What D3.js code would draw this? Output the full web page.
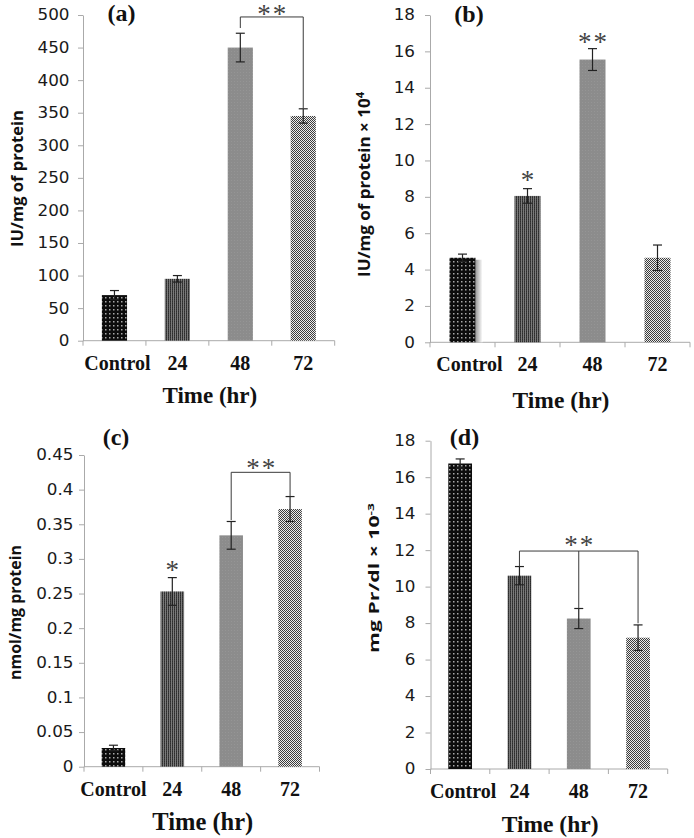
<!DOCTYPE html>
<html><head><meta charset="utf-8">
<script src="https://cdn.jsdelivr.net/npm/d3@7"></script>
<style>body{margin:0;background:#fff}svg{display:block}</style>
</head><body>
<svg id="chart" width="694" height="838"></svg>
<script>
// ---------- data ----------
const categories = ["Control", "24", "48", "72"];

const valuesA = [70, 95, 450, 345];
const errorsA = [7, 5, 22, 11];
const ticksA  = [0, 50, 100, 150, 200, 250, 300, 350, 400, 450, 500];

const valuesB = [4.65, 8.05, 15.55, 4.65];
const errorsB = [0.2, 0.4, 0.6, 0.7];
const ticksB  = [0, 2, 4, 6, 8, 10, 12, 14, 16, 18];

const valuesC = [0.027, 0.253, 0.334, 0.372];
const errorsC = [0.004, 0.02, 0.02, 0.018];
const ticksC  = [0, 0.05, 0.1, 0.15, 0.2, 0.25, 0.3, 0.35, 0.4, 0.45];

const valuesD = [16.75, 10.6, 8.25, 7.2];
const errorsD = [0.25, 0.5, 0.55, 0.7];
const ticksD  = [0, 2, 4, 6, 8, 10, 12, 14, 16, 18];

const panelLabels = ["(a)", "(b)", "(c)", "(d)"];
const xTitle = "Time (hr)";
const yTitles = [
  [{t: "IU/mg of protein"}],
  [{t: "IU/mg of protein × 10"}, {t: "4", sup: true}],
  [{t: "nmol/mg protein"}],
  [{t: "mg Pr/dl × 10"}, {t: "-3", sup: true}]
];
// significance marks: star text over categories (value = y position in data units)
const starsA = [{text: "**", cats: ["48", "72"], value: 507}];
const starsB = [{text: "*", cats: ["24"], value: 9.1}, {text: "**", cats: ["48"], value: 16.7}];
const starsC = [{text: "*", cats: ["24"], value: 0.289}, {text: "**", cats: ["48", "72"], value: 0.436}];
const starsD = [{text: "**", cats: ["48"], value: 12.45}];
// brackets: categories joined, top level and end level of each leg (data units)
const bracketsA = [{cats: ["48", "72"], top: 497, ends: [480, 357]}];
const bracketsB = [];
const bracketsC = [{cats: ["48", "72"], top: 0.425, ends: [0.356, 0.39]}];
const bracketsD = [{cats: ["24", "48", "72"], top: 11.95, ends: [11.1, 8.79, 7.99]}];

// ---------- layout ----------
const panels = [
  {values: valuesA, errors: errorsA, ticks: ticksA, stars: starsA, brackets: bracketsA,
   x0: 83, x1: 334.7, yTop: 15, y0: 340.7, labelGap: 13.5, ctrlShift: 3,
   plabel: {x: 121.5, y: 20.5}, ytitle: {x: 17.5, y: 178.5, len: 137, fs: 16.5},
   xtitleOff: 62.5, xtitleFs: 23},
  {values: valuesB, errors: errorsB, ticks: ticksB, stars: starsB, brackets: bracketsB,
   x0: 430, x1: 690, yTop: 15, y0: 342.3, labelGap: 15, ctrlShift: 7, shadow: true,
   plabel: {x: 469, y: 21.5}, ytitle: {x: 364, y: 184.5, len: 185, fs: 16.5},
   xtitleOff: 66, xtitleFs: 23.5},
  {values: valuesC, errors: errorsC, ticks: ticksC, stars: starsC, brackets: bracketsC,
   x0: 84, x1: 319.5, yTop: 455, y0: 766.7, labelGap: 10.5, ctrlShift: 0,
   plabel: {x: 116, y: 445}, ytitle: {x: 15, y: 612.5, len: 135, fs: 16},
   xtitleOff: 63, xtitleFs: 24.5},
  {values: valuesD, errors: errorsD, ticks: ticksD, stars: starsD, brackets: bracketsD,
   x0: 430.5, x1: 667.7, yTop: 440.7, y0: 769, labelGap: 15, ctrlShift: 3,
   plabel: {x: 464.5, y: 445}, ytitle: {x: 374.5, y: 578, len: 150, fs: 14},
   xtitleOff: 62.5, xtitleFs: 23.5}
];

const svg = d3.select("#chart");
const defs = svg.append("defs");

// patterns
function pattern(id, w, h, cells) {
  const p = defs.append("pattern").attr("id", id).attr("patternUnits", "userSpaceOnUse")
    .attr("width", w).attr("height", h);
  cells.forEach(c => p.append("rect").attr("x", c[0]).attr("y", c[1]).attr("width", c[2]).attr("height", c[3]).attr("fill", c[4]));
}
pattern("pCtrl", 4, 4, [[0,0,4,4,"#0c0c0c"],[1,1,1.5,1.5,"#a8a8a8"]]);
pattern("p24", 2, 2, [[0,0,2,2,"#3a3a3a"],[1,0,1,2,"#7a7a7a"],[0,1,1,1,"#2c2c2c"]]);
pattern("p48", 3, 3, [[0,0,3,3,"#8c8c8c"],[0,0,1,1,"#959595"]]);
pattern("p72", 2, 2, [[0,0,2,2,"#ececec"],[0,0,1,1,"#3c3c3c"],[1,1,1,1,"#3c3c3c"]]);
const fills = ["url(#pCtrl)", "url(#p24)", "url(#p48)", "url(#p72)"];

const grad = defs.append("linearGradient").attr("id", "shadow");
grad.append("stop").attr("offset", "0%").attr("stop-color", "#9a9a9a");
grad.append("stop").attr("offset", "100%").attr("stop-color", "#ffffff");

const fmt = v => String(+v.toFixed(2));
const axisCol = "#aaaaaa";

panels.forEach((p, i) => {
  const g = svg.append("g");
  const x = d3.scaleBand().domain(categories).range([p.x0, p.x1]).paddingInner(0.6).paddingOuter(0.3);
  const y = d3.scaleLinear().domain([0, p.ticks[p.ticks.length - 1]]).range([p.y0, p.yTop]);
  const bw = x.bandwidth();
  const cx = c => x(c) + bw / 2;

  // y axis
  const ya = g.append("g").attr("transform", `translate(${p.x0},0)`)
    .call(d3.axisLeft(y).tickValues(p.ticks).tickSize(5).tickSizeOuter(0).tickFormat(""));
  ya.selectAll("path, line").attr("stroke", axisCol).attr("stroke-width", 1);
  ya.selectAll("text").remove();

  // y tick labels
  g.selectAll(".ytl").data(p.ticks).join("text")
    .attr("transform", d => `translate(${p.x0 - p.labelGap},${y(d)}) scale(1.12,1)`)
    .attr("text-anchor", "end").attr("dy", "0.36em")
    .attr("font-family", "DejaVu Sans").attr("font-size", 15).attr("fill", "#1a1a1a")
    .text(fmt);

  // x axis line + ticks at slot edges
  g.append("line").attr("x1", p.x0).attr("x2", p.x1).attr("y1", p.y0).attr("y2", p.y0)
    .attr("stroke", axisCol);
  const edges = d3.range(categories.length + 1).map(k => p.x0 + k * x.step());
  g.selectAll(".xt").data(edges).join("line")
    .attr("x1", d => d).attr("x2", d => d).attr("y1", p.y0).attr("y2", p.y0 + 5)
    .attr("stroke", axisCol);

  // bar shadow (panel b control)
  if (p.shadow) {
    g.append("rect").attr("x", x(categories[0]) + bw).attr("y", y(p.values[0]) + 2)
      .attr("width", 7).attr("height", p.y0 - y(p.values[0]) - 2).attr("fill", "url(#shadow)");
  }

  // bars
  g.selectAll(".bar").data(categories).join("rect")
    .attr("x", d => x(d)).attr("width", bw)
    .attr("y", (d, k) => y(p.values[k])).attr("height", (d, k) => p.y0 - y(p.values[k]))
    .attr("fill", (d, k) => fills[k]);

  // error bars
  const eb = g.selectAll(".eb").data(categories).join("g");
  eb.append("line").attr("x1", d => cx(d)).attr("x2", d => cx(d))
    .attr("y1", (d, k) => y(p.values[k] + p.errors[k])).attr("y2", (d, k) => y(p.values[k] - p.errors[k]));
  eb.append("line").attr("x1", d => cx(d) - 4.5).attr("x2", d => cx(d) + 4.5)
    .attr("y1", (d, k) => y(p.values[k] + p.errors[k])).attr("y2", (d, k) => y(p.values[k] + p.errors[k]));
  eb.append("line").attr("x1", d => cx(d) - 4.5).attr("x2", d => cx(d) + 4.5)
    .attr("y1", (d, k) => y(p.values[k] - p.errors[k])).attr("y2", (d, k) => y(p.values[k] - p.errors[k]));
  eb.selectAll("line").attr("stroke", "#222").attr("stroke-width", 1.2);

  // brackets
  p.brackets.forEach(b => {
    const xs = b.cats.map(cx);
    g.append("line").attr("x1", d3.min(xs)).attr("x2", d3.max(xs)).attr("y1", y(b.top)).attr("y2", y(b.top))
      .attr("stroke", "#3a3a3a").attr("stroke-width", 1);
    b.cats.forEach((c, k) => {
      g.append("line").attr("x1", cx(c)).attr("x2", cx(c)).attr("y1", y(b.top)).attr("y2", y(b.ends[k]))
        .attr("stroke", "#3a3a3a").attr("stroke-width", 1);
    });
  });

  // stars
  p.stars.forEach(s => {
    const sx = d3.mean(s.cats.map(cx));
    g.append("text").attr("x", sx + (s.text.length > 1 ? 1 : 0)).attr("y", y(s.value) + 12.5)
      .attr("text-anchor", "middle").attr("font-family", "Liberation Serif")
      .attr("letter-spacing", s.text.length > 1 ? 2 : 0)
      .attr("font-size", 27).attr("fill", "#444").text(s.text);
  });

  // category labels
  g.selectAll(".xl").data(categories).join("text")
    .attr("x", (d, k) => cx(d) + (k === 0 ? p.ctrlShift : 0)).attr("y", p.y0 + 29)
    .attr("text-anchor", "middle").attr("font-family", "Liberation Serif").attr("font-weight", "bold")
    .attr("font-size", 20).attr("fill", "#111").text(d => d);

  // x title
  g.append("text").attr("x", (p.x0 + p.x1) / 2 + 1).attr("y", p.y0 + p.xtitleOff)
    .attr("text-anchor", "middle").attr("font-family", "Liberation Serif").attr("font-weight", "bold")
    .attr("font-size", p.xtitleFs).attr("fill", "#111").text(xTitle);

  // panel label
  g.append("text").attr("x", p.plabel.x).attr("y", p.plabel.y)
    .attr("text-anchor", "middle").attr("font-family", "Liberation Serif").attr("font-weight", "bold")
    .attr("font-size", 24).attr("fill", "#111").text(panelLabels[i]);

  // y title (rotated, stretched to measured length)
  const yt = g.append("text").attr("text-anchor", "middle").attr("dy", "0.35em")
    .attr("font-family", "Open Sans").attr("font-weight", "bold")
    .attr("font-size", p.ytitle.fs).attr("fill", "#111");
  yTitles[i].forEach(seg => {
    const ts = yt.append("tspan").text(seg.t);
    if (seg.sup) ts.attr("font-size", p.ytitle.fs * 0.65).attr("dy", "-0.55em");
  });
  const len = yt.node().getComputedTextLength();
  const k = p.ytitle.len / len;
  yt.attr("transform", `translate(${p.ytitle.x},${p.ytitle.y}) rotate(-90) scale(${k},1)`);
});
</script>
</body></html>
